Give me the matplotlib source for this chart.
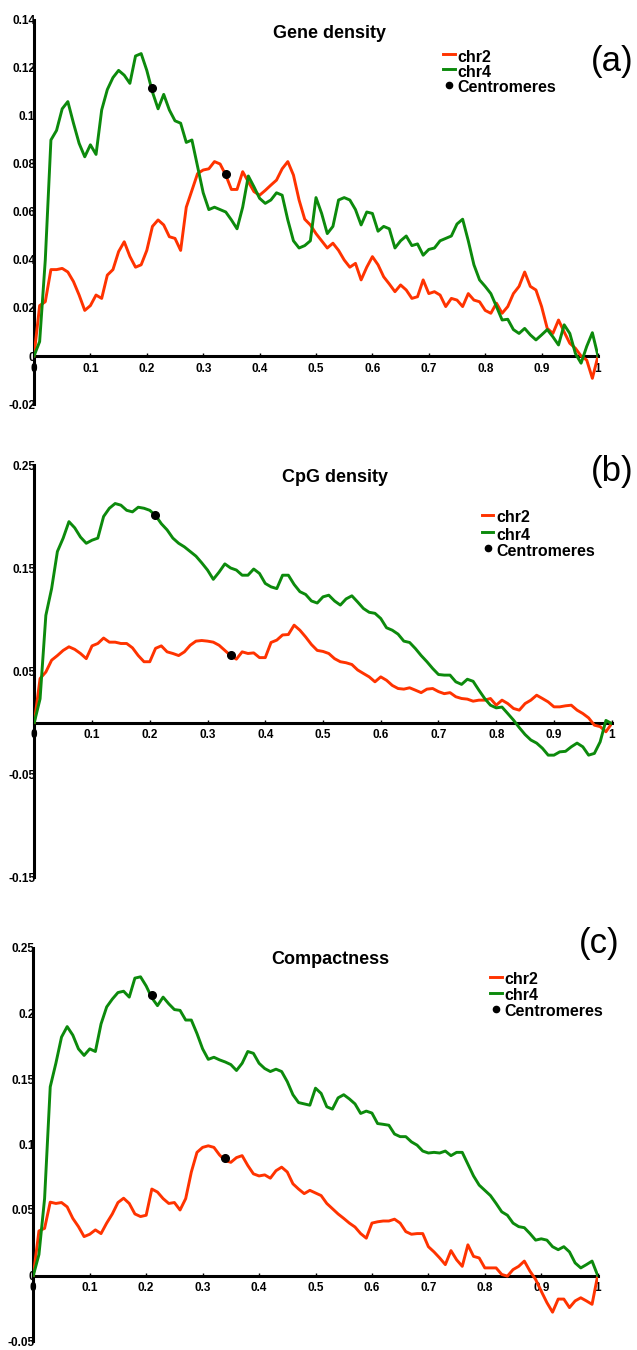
import numpy as np
import matplotlib
matplotlib.use('Agg')
import matplotlib.pyplot as plt
from matplotlib.lines import Line2D

plt.rcParams['font.family'] = ['Liberation Sans', 'DejaVu Sans']

W, H = 637, 1350

# relative position along the chromosome (0 = p-ter, 1 = q-ter), read every 0.01
pos = np.linspace(0, 1, 101)

# (a) gene density
gene_chr2 = [0, 0.021, 0.0226, 0.036, 0.036, 0.0365, 0.035, 0.031, 0.0254, 0.019,
             0.021, 0.0254, 0.024, 0.0337, 0.036, 0.0435, 0.0476, 0.0415, 0.037, 0.038,
             0.044, 0.054, 0.0567, 0.0546, 0.0497, 0.049, 0.044, 0.062, 0.069, 0.076,
             0.0775, 0.078, 0.081, 0.080, 0.0754, 0.0694, 0.0694, 0.0768, 0.0726, 0.0685,
             0.067, 0.069, 0.0712, 0.0733, 0.078, 0.081, 0.0754, 0.065, 0.057, 0.0546,
             0.051, 0.048, 0.045, 0.047, 0.044, 0.040, 0.037, 0.0386, 0.0317, 0.037,
             0.0414, 0.038, 0.033, 0.030, 0.0268, 0.0296, 0.0275, 0.024, 0.0247, 0.0317,
             0.026, 0.0268, 0.0254, 0.0206, 0.024, 0.0233, 0.0206, 0.026, 0.0233, 0.0226,
             0.019, 0.0178, 0.022, 0.0178, 0.0206, 0.026, 0.029, 0.035, 0.029, 0.0275,
             0.0206, 0.0115, 0.0094, 0.015, 0.010, 0.0053, 0.0032, 0.0, -0.0017, -0.0093,
             0]
gene_chr4 = [0, 0.006, 0.04, 0.09, 0.094, 0.103, 0.106, 0.097, 0.0886, 0.083,
             0.088, 0.084, 0.1025, 0.111, 0.116, 0.119, 0.117, 0.1136, 0.125, 0.126,
             0.119, 0.110, 0.103, 0.109, 0.1025, 0.098, 0.097, 0.089, 0.090, 0.079,
             0.068, 0.061, 0.062, 0.061, 0.060, 0.0567, 0.053, 0.062, 0.075, 0.0705,
             0.0657, 0.0636, 0.065, 0.068, 0.067, 0.0567, 0.048, 0.045, 0.046, 0.048,
             0.066, 0.0594, 0.051, 0.054, 0.065, 0.066, 0.065, 0.061, 0.0546, 0.060,
             0.0594, 0.052, 0.054, 0.053, 0.045, 0.048, 0.050, 0.046, 0.0467, 0.042,
             0.0444, 0.045, 0.048, 0.049, 0.050, 0.055, 0.057, 0.048, 0.038, 0.0317,
             0.029, 0.026, 0.0206, 0.015, 0.0153, 0.011, 0.0094, 0.0115, 0.0088, 0.0067,
             0.0088, 0.011, 0.008, 0.0046, 0.013, 0.0094, 0.001, -0.003, 0.004, 0.0097,
             0]
gene_cen_x = [0.209, 0.34]
gene_cen_y = [0.1115, 0.076]

# (b) CpG density
cpg_chr2 = [0, 0.0427, 0.049, 0.0605, 0.065, 0.070, 0.0735, 0.071, 0.067, 0.062,
            0.0744, 0.0767, 0.082, 0.078, 0.078, 0.0767, 0.0767, 0.0725, 0.065, 0.059,
            0.059, 0.072, 0.0744, 0.0686, 0.067, 0.065, 0.0686, 0.075, 0.079, 0.0796,
            0.079, 0.078, 0.075, 0.070, 0.065, 0.0615, 0.0686, 0.067, 0.0676, 0.063,
            0.063, 0.0777, 0.080, 0.085, 0.0854, 0.0945, 0.0896, 0.083, 0.0757, 0.070,
            0.069, 0.067, 0.062, 0.059, 0.058, 0.0563, 0.051, 0.0476, 0.0443, 0.0395,
            0.0443, 0.041, 0.036, 0.033, 0.0324, 0.0337, 0.0314, 0.029, 0.0324, 0.033,
            0.030, 0.028, 0.029, 0.025, 0.0233, 0.0227, 0.0207, 0.0217, 0.0217, 0.0233,
            0.0168, 0.0217, 0.0184, 0.0136, 0.012, 0.0184, 0.0217, 0.0265, 0.0233, 0.020,
            0.0152, 0.0152, 0.0162, 0.0168, 0.012, 0.0087, 0.0045, -0.0026, -0.004, -0.009,
            -0.001]
cpg_chr4 = [0, 0.023, 0.104, 0.130, 0.166, 0.179, 0.195, 0.189, 0.180, 0.174,
            0.177, 0.179, 0.200, 0.208, 0.2126, 0.211, 0.206, 0.2045, 0.209, 0.208,
            0.206, 0.201, 0.193, 0.187, 0.179, 0.174, 0.1705, 0.166, 0.1615, 0.155,
            0.148, 0.139, 0.146, 0.154, 0.150, 0.148, 0.143, 0.143, 0.149, 0.1447,
            0.135, 0.1317, 0.130, 0.143, 0.143, 0.134, 0.127, 0.1243, 0.118, 0.116,
            0.122, 0.1236, 0.118, 0.114, 0.120, 0.123, 0.117, 0.1107, 0.107, 0.106,
            0.101, 0.092, 0.0896, 0.0858, 0.079, 0.0777, 0.0718, 0.065, 0.059, 0.0524,
            0.0466, 0.046, 0.046, 0.0395, 0.037, 0.042, 0.040, 0.0314, 0.0233, 0.0168,
            0.0142, 0.015, 0.0087, 0.0023, -0.005, -0.0117, -0.017, -0.020, -0.025, -0.0317,
            -0.0317, -0.0285, -0.028, -0.0236, -0.020, -0.0236, -0.0317, -0.030, -0.0188, 0.002,
            -0.001]
cpg_cen_x = [0.209, 0.34]
cpg_cen_y = [0.2013, 0.066]

# (c) compactness
comp_chr2 = [0, 0.034, 0.036, 0.056, 0.055, 0.0557, 0.0524, 0.0436, 0.0373, 0.0297,
             0.0315, 0.0348, 0.032, 0.040, 0.047, 0.0557, 0.059, 0.055, 0.047, 0.045,
             0.046, 0.066, 0.0637, 0.0587, 0.055, 0.0557, 0.050, 0.0587, 0.079, 0.094,
             0.0978, 0.099, 0.0978, 0.092, 0.0877, 0.0864, 0.090, 0.0915, 0.084, 0.0776,
             0.076, 0.0768, 0.0743, 0.080, 0.0827, 0.079, 0.070, 0.066, 0.0625, 0.065,
             0.063, 0.061, 0.055, 0.051, 0.047, 0.0436, 0.040, 0.037, 0.032, 0.0285,
             0.040, 0.041, 0.0416, 0.0416, 0.043, 0.040, 0.0335, 0.0315, 0.032, 0.032,
             0.022, 0.018, 0.0134, 0.0083, 0.019, 0.012, 0.007, 0.0234, 0.0146, 0.0134,
             0.0058, 0.0058, 0.0058, 0.0008, -0.0005, 0.0045, 0.007, 0.011, 0.0033, -0.003,
             -0.012, -0.0207, -0.028, -0.018, -0.018, -0.0245, -0.0194, -0.017, -0.0194, -0.022,
             0]
comp_chr4 = [0, 0.016, 0.0587, 0.144, 0.162, 0.182, 0.190, 0.1835, 0.173, 0.168,
             0.173, 0.171, 0.192, 0.205, 0.211, 0.216, 0.217, 0.2125, 0.227, 0.228,
             0.221, 0.212, 0.206, 0.2125, 0.2074, 0.203, 0.2024, 0.195, 0.195, 0.1847,
             0.173, 0.165, 0.1666, 0.1646, 0.163, 0.161, 0.1565, 0.162, 0.171, 0.1696,
             0.162, 0.158, 0.1557, 0.1575, 0.1557, 0.148, 0.138, 0.132, 0.131, 0.130,
             0.143, 0.139, 0.1288, 0.127, 0.1356, 0.138, 0.1348, 0.131, 0.1237, 0.1255,
             0.124, 0.116, 0.1154, 0.1147, 0.108, 0.106, 0.106, 0.102, 0.0995, 0.095,
             0.0935, 0.094, 0.0935, 0.095, 0.0915, 0.094, 0.094, 0.085, 0.076, 0.069,
             0.065, 0.061, 0.055, 0.0486, 0.046, 0.040, 0.0373, 0.0365, 0.032, 0.027,
             0.028, 0.027, 0.022, 0.0197, 0.022, 0.018, 0.0096, 0.0058, 0.0083, 0.011,
             0]
comp_cen_x = [0.2097, 0.34]
comp_cen_y = [0.2142, 0.09]

xticks = [0, 0.1, 0.2, 0.3, 0.4, 0.5, 0.6, 0.7, 0.8, 0.9, 1]
xticklabels = ['0', '0.1', '0.2', '0.3', '0.4', '0.5', '0.6', '0.7', '0.8', '0.9', '1']

RED = '#ff3300'
GREEN = '#0c8a0c'

fig = plt.figure(figsize=(W / 100, H / 100), dpi=100)


def fx(px):
    return px / W


def fy(py):
    return 1 - py / H


def panel(box, ylim, yticks, yticklabels, chr2, chr4, cen_x, cen_y,
          title, title_xy, leg, tag, tag_xy):
    left, right, top, bottom = box
    ax = fig.add_axes([fx(left), fy(bottom), (right - left) / W, (bottom - top) / H])
    ax.plot(pos, chr2, color=RED, lw=2.1, solid_joinstyle='round', zorder=3)
    ax.plot(pos, chr4, color=GREEN, lw=2.1, solid_joinstyle='round', zorder=3)
    ax.plot(cen_x, cen_y, 'o', color='black', ms=5.5, zorder=4)
    ax.set_xlim(0, 1)
    ax.set_ylim(*ylim)
    ax.patch.set_visible(False)
    for s in ['top', 'right']:
        ax.spines[s].set_visible(False)
    ax.spines['bottom'].set_position(('data', 0))
    ax.spines['left'].set_linewidth(2.2)
    ax.spines['bottom'].set_linewidth(2.2)
    ax.set_xticks(xticks)
    ax.set_xticklabels(xticklabels, fontsize=8.5, fontweight='bold')
    ax.set_yticks(yticks)
    ax.set_yticklabels(yticklabels, fontsize=8.5, fontweight='bold')
    ax.tick_params(axis='x', direction='in', length=2.5, width=1, pad=5)
    ax.tick_params(axis='y', length=0, pad=-1)

    fig.text(fx(title_xy[0]), fy(title_xy[1]), title, fontsize=13,
             fontweight='bold', ha='center', va='center')
    fig.text(fx(tag_xy[0]), fy(tag_xy[1]), tag, fontsize=25,
             ha='center', va='center')

    # legend
    lx0, lx1, tx, rows, dy = leg
    for (label, color), ty in zip([('chr2', RED), ('chr4', GREEN)], rows[:2]):
        fig.add_artist(Line2D([fx(lx0), fx(lx1)], [fy(ty - dy), fy(ty - dy)],
                              color=color, lw=2.1, transform=fig.transFigure))
        fig.text(fx(tx), fy(ty), label, fontsize=11.5, fontweight='bold',
                 ha='left', va='center')
    fig.add_artist(Line2D([fx((lx0 + lx1) / 2)], [fy(rows[2] - dy)], marker='o',
                          ms=4.5, color='black', transform=fig.transFigure))
    fig.text(fx(tx), fy(rows[2]), 'Centromeres', fontsize=11.5,
             fontweight='bold', ha='left', va='center')


panel((34, 598, 20, 404), (-0.02, 0.14),
      [-0.02, 0, 0.02, 0.04, 0.06, 0.08, 0.1, 0.12, 0.14],
      ['-0.02', '0', '0.02', '0.04', '0.06', '0.08', '0.1', '0.12', '0.14'],
      gene_chr2, gene_chr4, gene_cen_x, gene_cen_y,
      'Gene density', (330, 33),
      (443, 455, 457, (57, 72.5, 88), 3.5), '(a)', (612, 61))

panel((34.3, 611.7, 465, 877), (-0.15, 0.25),
      [-0.15, -0.05, 0.05, 0.15, 0.25],
      ['-0.15', '-0.05', '0.05', '0.15', '0.25'],
      cpg_chr2, cpg_chr4, cpg_cen_x, cpg_cen_y,
      'CpG density', (335, 478),
      (482, 493, 496, (518, 535, 551), 3), '(b)', (612, 472))

panel((33.3, 597.7, 948, 1341), (-0.05, 0.25),
      [-0.05, 0, 0.05, 0.1, 0.15, 0.2, 0.25],
      ['-0.05', '0', '0.05', '0.1', '0.15', '0.2', '0.25'],
      comp_chr2, comp_chr4, comp_cen_x, comp_cen_y,
      'Compactness', (330, 960),
      (490, 502, 504, (980, 996, 1012), 3.5), '(c)', (599, 943))

fig.savefig('out.png', dpi=100)
